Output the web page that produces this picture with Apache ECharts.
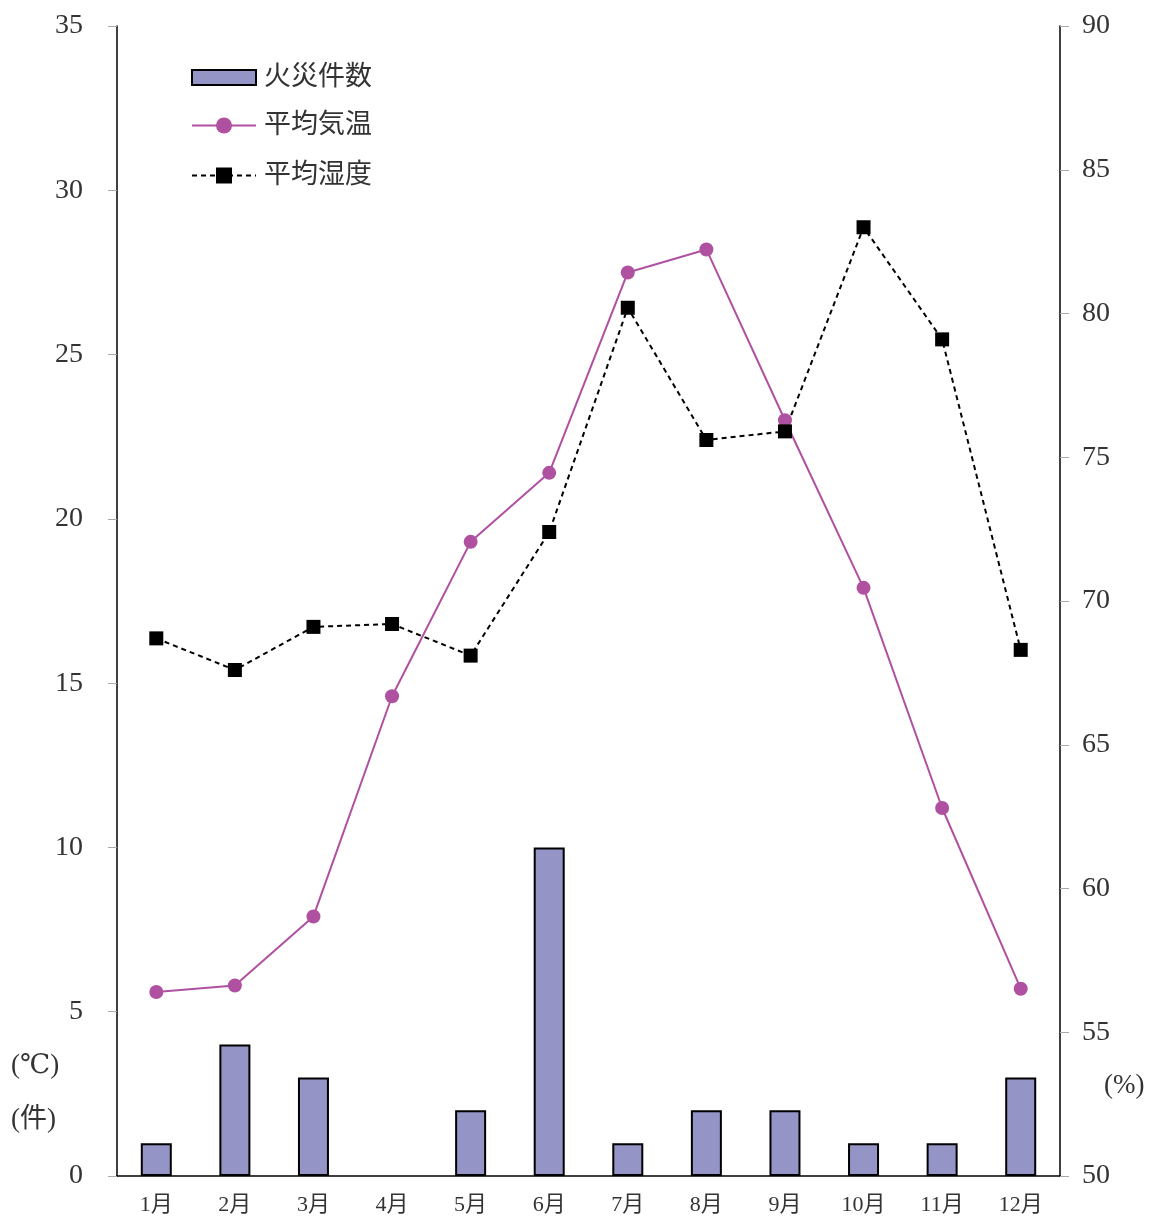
<!DOCTYPE html>
<html><head><meta charset="utf-8">
<script src="https://cdn.jsdelivr.net/npm/echarts@6/dist/echarts.min.js"></script>
<style>html,body{margin:0;padding:0;background:#fff}#c{width:1159px;height:1222px}</style>
</head><body><div id="c"></div>
<script>
const months = ['1月','2月','3月','4月','5月','6月','7月','8月','9月','10月','11月','12月'];
const fires = [1,4,3,0,2,10,1,2,2,1,1,3];
const temperature = [5.6,5.8,7.9,14.6,19.3,21.4,27.5,28.2,23.0,17.9,11.2,5.7];
const humidity = [68.7,67.6,69.1,69.2,68.1,72.4,80.2,75.6,75.9,83.0,79.1,68.3];
const FONT = '"Liberation Serif","DejaVu Serif","Noto Sans CJK JP",serif';
const legendText = {fontFamily:FONT,fontSize:27,color:'#333',padding:[0,0,0,3]};
const chart = echarts.init(document.getElementById('c'));
chart.setOption({
  animation:false,
  backgroundColor:'#fff',
  textStyle:{fontFamily:FONT},
  grid:{left:117,right:99,top:26,bottom:46},
  legend:[
    {orient:'vertical',left:186,top:59,itemWidth:64,itemHeight:15,
     textStyle:legendText,data:[{name:'火災件数',icon:'rect'}]},
    {orient:'vertical',left:186,top:107,itemWidth:64,itemHeight:20,itemGap:23,
     textStyle:legendText,data:['平均気温','平均湿度']}
  ],
  xAxis:{type:'category',data:months,
    axisLine:{lineStyle:{color:'#000',width:1.5}},axisTick:{show:false},
    axisLabel:{fontFamily:FONT,fontSize:22,color:'#333',margin:18}},
  yAxis:[
    {type:'value',min:0,max:35,interval:5,splitLine:{show:false},
     axisLine:{show:true,lineStyle:{color:'#000',width:1.5}},
     axisTick:{show:true,inside:false,length:9,lineStyle:{color:'#aaa'}},
     axisLabel:{fontFamily:FONT,fontSize:28,color:'#333',margin:34}},
    {type:'value',min:50,max:90,interval:5,splitLine:{show:false},
     axisLine:{show:true,lineStyle:{color:'#000',width:1.5}},
     axisTick:{show:true,inside:false,length:9,lineStyle:{color:'#aaa'}},
     axisLabel:{fontFamily:FONT,fontSize:28,color:'#333',margin:22}}
  ],
  series:[
    {name:'火災件数',type:'bar',yAxisIndex:0,barWidth:31,
     data:fires.map(v => v === 0 ? {value:v,itemStyle:{borderWidth:0}} : v),
     itemStyle:{color:'#9494c6',borderColor:'#000',borderWidth:2}},
    {name:'平均気温',type:'line',data:temperature,yAxisIndex:0,
     symbol:'circle',symbolSize:14,
     lineStyle:{color:'#b050a0',width:2},itemStyle:{color:'#b050a0'}},
    {name:'平均湿度',type:'line',data:humidity,yAxisIndex:1,
     symbol:'rect',symbolSize:14,
     lineStyle:{color:'#000',width:2,type:[5,4]},itemStyle:{color:'#000'}}
  ],
  graphic:[
    {type:'text',left:11,top:1052,style:{text:'(℃)',font:'27px '+FONT,fill:'#333'}},
    {type:'text',left:11,top:1106,style:{text:'(件)',font:'27px '+FONT,fill:'#333'}},
    {type:'text',left:1104,top:1072,style:{text:'(%)',font:'27px '+FONT,fill:'#333'}}
  ]
});
</script></body></html>
